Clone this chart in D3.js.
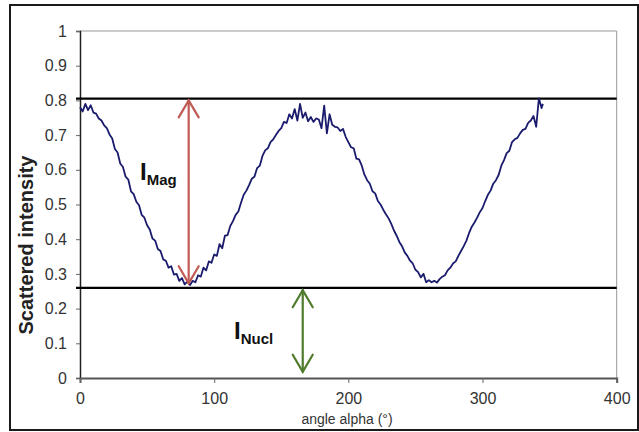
<!DOCTYPE html>
<html>
<head>
<meta charset="utf-8">
<script src="https://cdn.jsdelivr.net/npm/d3@7"></script>
<style>
  html, body { margin: 0; padding: 0; background: #fff; }
  svg text { font-family: "Liberation Sans", Arial, sans-serif; }
</style>
</head>
<body>
<div id="chart"></div>
<script>
document.addEventListener("DOMContentLoaded", function () {
  const width = 639, height = 432;

  // measured angle (deg) and scattered intensity
  const angles = [0, 2, 4, 6, 8, 10, 12, 14, 16, 18, 20, 22, 24, 26, 28, 30, 32, 34, 36, 38,
    40, 42, 44, 46, 48, 50, 52, 54, 56, 58, 60, 62, 64, 66, 68, 70, 72, 74, 76, 78,
    80, 82, 84, 86, 88, 90, 92, 94, 96, 98, 100, 102, 104, 106, 108, 110, 112, 114, 116, 118,
    120, 122, 124, 126, 128, 130, 132, 134, 136, 138, 140, 142, 144, 146, 148, 150, 152, 154, 156, 158,
    160, 162, 164, 166, 168, 170, 172, 174, 176, 178, 180, 182, 184, 186, 188, 190, 192, 194, 196, 198,
    200, 202, 204, 206, 208, 210, 212, 214, 216, 218, 220, 222, 224, 226, 228, 230, 232, 234, 236, 238,
    240, 242, 244, 246, 248, 250, 252, 254, 256, 258, 260, 262, 264, 266, 268, 270, 272, 274, 276, 278,
    280, 282, 284, 286, 288, 290, 292, 294, 296, 298, 300, 302, 304, 306, 308, 310, 312, 314, 316, 318,
    320, 322, 324, 326, 328, 330, 332, 334, 336, 338, 340, 342, 344, 345];
  const intensity = [0.780, 0.768, 0.790, 0.772, 0.786, 0.765, 0.762, 0.748, 0.742, 0.728,
    0.720, 0.702, 0.690, 0.660, 0.650, 0.618, 0.608, 0.580, 0.572, 0.538,
    0.530, 0.508, 0.498, 0.470, 0.462, 0.440, 0.428, 0.402, 0.396, 0.372,
    0.366, 0.342, 0.338, 0.318, 0.322, 0.298, 0.300, 0.280, 0.288, 0.270,
    0.278, 0.268, 0.280, 0.276, 0.296, 0.292, 0.318, 0.310, 0.336, 0.332,
    0.356, 0.352, 0.386, 0.374, 0.410, 0.412, 0.438, 0.452, 0.470, 0.480,
    0.505, 0.528, 0.540, 0.556, 0.574, 0.580, 0.605, 0.612, 0.640, 0.656,
    0.662, 0.680, 0.688, 0.700, 0.712, 0.720, 0.738, 0.735, 0.760, 0.748,
    0.775, 0.742, 0.790, 0.750, 0.765, 0.740, 0.752, 0.738, 0.748, 0.745,
    0.720, 0.785, 0.705, 0.760, 0.730, 0.724, 0.722, 0.712, 0.718, 0.695,
    0.680, 0.665, 0.662, 0.632, 0.630, 0.612, 0.586, 0.570, 0.560, 0.538,
    0.532, 0.510, 0.500, 0.485, 0.472, 0.460, 0.444, 0.425, 0.410, 0.392,
    0.380, 0.362, 0.352, 0.338, 0.330, 0.312, 0.305, 0.290, 0.300, 0.276,
    0.282, 0.276, 0.280, 0.275, 0.285, 0.292, 0.296, 0.310, 0.318, 0.330,
    0.336, 0.352, 0.366, 0.380, 0.396, 0.418, 0.436, 0.448, 0.462, 0.478,
    0.490, 0.510, 0.528, 0.540, 0.560, 0.570, 0.585, 0.612, 0.628, 0.648,
    0.655, 0.680, 0.688, 0.692, 0.705, 0.715, 0.718, 0.735, 0.742, 0.755,
    0.724, 0.806, 0.778, 0.790];

  const xTicks = [0, 100, 200, 300, 400];
  const yTicks = [0, 0.1, 0.2, 0.3, 0.4, 0.5, 0.6, 0.7, 0.8, 0.9, 1];

  // reference levels and arrows
  const magLevel = 0.805, nuclLevel = 0.26;
  const magArrow = { angle: 81, top: 0.800, bottom: 0.273 };
  const nuclArrow = { angle: 166, top: 0.253, bottom: 0.018 };

  const x = d3.scaleLinear().domain([0, 400]).range([80, 616.7]);
  const y = d3.scaleLinear().domain([0, 1]).range([378, 31]);

  const svg = d3.select("#chart").append("svg")
    .attr("width", width).attr("height", height);

  // outer frame
  svg.append("rect")
    .attr("x", 10).attr("y", 5).attr("width", 628).attr("height", 425)
    .attr("fill", "#fff").attr("stroke", "#1a1a1a").attr("stroke-width", 2);

  // plot box top and right
  svg.append("path")
    .attr("d", `M${x(0)},${y(1)}H${x(400)}V${y(0)}`)
    .attr("fill", "none").attr("stroke", "#999").attr("stroke-width", 1);

  // y axis
  const yAxis = svg.append("g")
    .attr("transform", `translate(${x(0)},0)`)
    .call(d3.axisLeft(y).tickValues(yTicks).tickSize(4).tickPadding(9).tickFormat(d3.format("~g")));
  yAxis.select(".domain").attr("stroke", "#222").attr("stroke-width", 1.5);
  yAxis.selectAll(".tick line").attr("stroke", "#666");
  yAxis.selectAll(".tick text").attr("fill", "#333").attr("font-size", 16)
    .attr("font-family", "Liberation Sans, Arial, sans-serif");

  // x axis
  const xAxis = svg.append("g")
    .attr("transform", `translate(0,${y(0)})`)
    .call(d3.axisBottom(x).tickValues(xTicks).tickSize(5).tickPadding(10));
  xAxis.select(".domain").attr("stroke", "#555").attr("stroke-width", 2);
  xAxis.selectAll(".tick line").attr("stroke", "#666");
  xAxis.selectAll(".tick text").attr("fill", "#333").attr("font-size", 16)
    .attr("font-family", "Liberation Sans, Arial, sans-serif");

  // axis titles
  svg.append("text")
    .attr("x", 347).attr("y", 424)
    .attr("text-anchor", "middle").attr("font-size", 14).attr("fill", "#333")
    .text("angle alpha (°)");
  svg.append("text")
    .attr("transform", "translate(33,245) rotate(-90)")
    .attr("text-anchor", "middle").attr("font-size", 20).attr("font-weight", "bold")
    .attr("fill", "#222")
    .text("Scattered intensity");

  // horizontal level lines
  [magLevel, nuclLevel].forEach(v => {
    svg.append("line")
      .attr("x1", x(0) - 4).attr("x2", x(400))
      .attr("y1", y(v)).attr("y2", y(v))
      .attr("stroke", "#000").attr("stroke-width", 2.2);
  });

  // data curve
  const pts = angles.map((a, i) => [a, intensity[i]]);
  svg.append("path")
    .datum(pts)
    .attr("d", d3.line().x(d => x(d[0])).y(d => y(d[1])))
    .attr("fill", "none").attr("stroke", "#1b1b6e").attr("stroke-width", 1.8)
    .attr("stroke-linejoin", "round");

  // double arrows with open heads
  function doubleArrow(a, color) {
    const cx = x(a.angle), y1 = y(a.top), y2 = y(a.bottom);
    const g = svg.append("g").attr("stroke", color).attr("stroke-width", 2.2)
      .attr("fill", "none").attr("stroke-linecap", "round");
    g.append("line").attr("x1", cx).attr("x2", cx).attr("y1", y1).attr("y2", y2);
    g.append("path").attr("d", `M${cx - 10},${y1 + 17}L${cx},${y1}L${cx + 10},${y1 + 17}`);
    g.append("path").attr("d", `M${cx - 10},${y2 - 17}L${cx},${y2}L${cx + 10},${y2 - 17}`);
  }
  doubleArrow(magArrow, "#bf5a55");
  doubleArrow(nuclArrow, "#4f7b2b");

  // labels
  function label(px, py, sub) {
    const t = svg.append("text").attr("x", px).attr("y", py)
      .attr("font-weight", "bold").attr("fill", "#111");
    t.append("tspan").attr("font-size", 24).text("I");
    t.append("tspan").attr("font-size", 15).attr("dy", 5).text(sub);
  }
  label(140, 180, "Mag");
  label(234, 339, "Nucl");
});
</script>
</body>
</html>
